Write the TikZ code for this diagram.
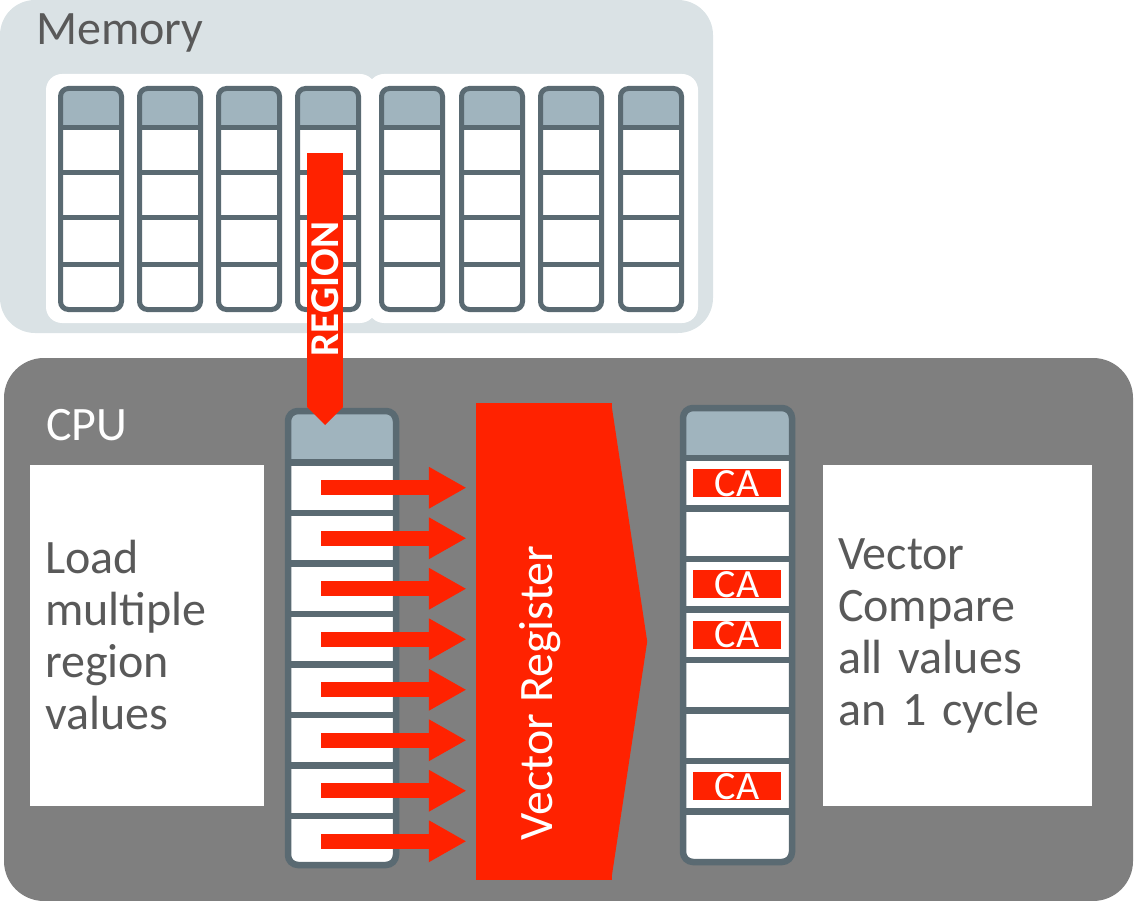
\documentclass[tikz,border=0pt]{standalone}
\usepackage{fontspec}
\setmainfont{Carlito}
\usetikzlibrary{arrows.meta}
\definecolor{membg}{HTML}{DAE2E5}
\definecolor{colline}{HTML}{5A6A72}
\definecolor{hdrfill}{HTML}{A0B4BE}
\definecolor{redc}{HTML}{FF2200}
\definecolor{cpugray}{HTML}{7F7F7F}
\definecolor{txtgray}{HTML}{595959}
\begin{document}
\begin{tikzpicture}[x=1pt, y=-1pt, big_text/.style={font=\fontsize{48}{52}\selectfont, inner sep=0pt}, mem_line/.style={draw=colline, line width=5pt}, cpu_line/.style={draw=colline, line width=6.5pt}, info_box/.style={fill=white, minimum height=341pt, align=left, inner xsep=15pt, inner ysep=0pt, text=txtgray, font=\fontsize{48}{52}\selectfont}, ca_box/.style={fill=redc, text=white, minimum width=88pt, minimum height=28pt, inner sep=0pt, font=\fontsize{40}{40}\selectfont}, load_arrow/.style={draw=redc, line width=15pt, shorten >=10pt, -{Triangle[length=37pt, width=42pt, line width=0pt]}}, region_arrow/.style={draw=redc, line width=36pt, -{Triangle[length=18pt, width=36pt, line width=0pt]}}]
      \useasboundingbox (0,0) rectangle (1134,901);
      % memory
      \fill[membg, rounded corners=35] (0,0) rectangle (713,333);
      \fill[white, rounded corners=16] (46,74) rectangle (376,323);
      \fill[white, rounded corners=16] (368,74) rectangle (698,323);
      \node[big_text, text=txtgray, anchor=base west] (memory) at (36,45) {Memory};
      \foreach \x in {58,137,216,295,379,459,538,618} {
        \begin{scope}
          \clip (\x,80) rectangle (\x+66,128);
          \fill[hdrfill, rounded corners=8] (\x+2.5,88.5) rectangle (\x+63.5,309.5);
        \end{scope}
        \foreach \y in {128,173,218,264}
          \draw[mem_line] (\x+2.5,\y) -- (\x+63.5,\y);
        \draw[mem_line, rounded corners=8] (\x+2.5,88.5) rectangle (\x+63.5,309.5);
      }
      % cpu
      \fill[cpugray, rounded corners=40] (4,358) rectangle (1133,901);
      \node[big_text, text=white, anchor=base west] (cpu) at (46,440) {CPU};
      \node[info_box, text width=204pt] (load) at (147,635.5) {Load\\multiple\\region\\values};
      \node[info_box, text width=239pt] (compare) at (957.5,635.5) {Vector\\Compare\\all values\\an 1 cycle};
      % load column
      \fill[white, rounded corners=10] (288,411) rectangle (396,865);
      \begin{scope}
        \clip (280,400) rectangle (404,462.5);
        \fill[hdrfill, rounded corners=10] (288,411) rectangle (396,865);
      \end{scope}
      \foreach \k in {0,...,7}
        \draw[cpu_line] (288,462.5+50.5*\k) -- (396,462.5+50.5*\k);
      \draw[cpu_line, rounded corners=10] (288,411) rectangle (396,865);
      % vector register
      \node[fill=redc, minimum width=136pt, minimum height=477pt, inner sep=0pt] (vreg) at (544,641.5) {};
      \fill[redc] ([xshift=-1pt]vreg.north east) -- ([xshift=35pt]vreg.east) -- ([xshift=-1pt]vreg.south east) -- cycle;
      \node[big_text, text=white, rotate=90, anchor=base] (vregtext) at (552,693) {Vector Register};
      \foreach \k in {1,...,8} {
        \coordinate (src\k) at (321,437.25+50.5*\k);
        \draw[load_arrow] (src\k) -- (src\k -| vreg.west);
      }
      % result column
      \fill[white, rounded corners=10] (683,408) rectangle (792,862);
      \begin{scope}
        \clip (675,395) rectangle (800,458);
        \fill[hdrfill, rounded corners=10] (683,408) rectangle (792,862);
      \end{scope}
      \foreach \k in {0,...,7}
        \draw[cpu_line] (683,458+50.5*\k) -- (792,458+50.5*\k);
      \draw[cpu_line, rounded corners=10] (683,408) rectangle (792,862);
      \foreach \k in {1,3,4,7}
        \node[ca_box] (ca\k) at (737,432.75+50.5*\k) {CA};
      % region arrow
      \coordinate (regtop) at (325,153);
      \coordinate (reghead) at (325,425);
      \draw[region_arrow] (regtop) -- (reghead) node[midway, rotate=90, text=white, inner sep=0pt, font=\bfseries\fontsize{41}{41}\selectfont] (region) {REGION};
    \end{tikzpicture}
\end{document}
